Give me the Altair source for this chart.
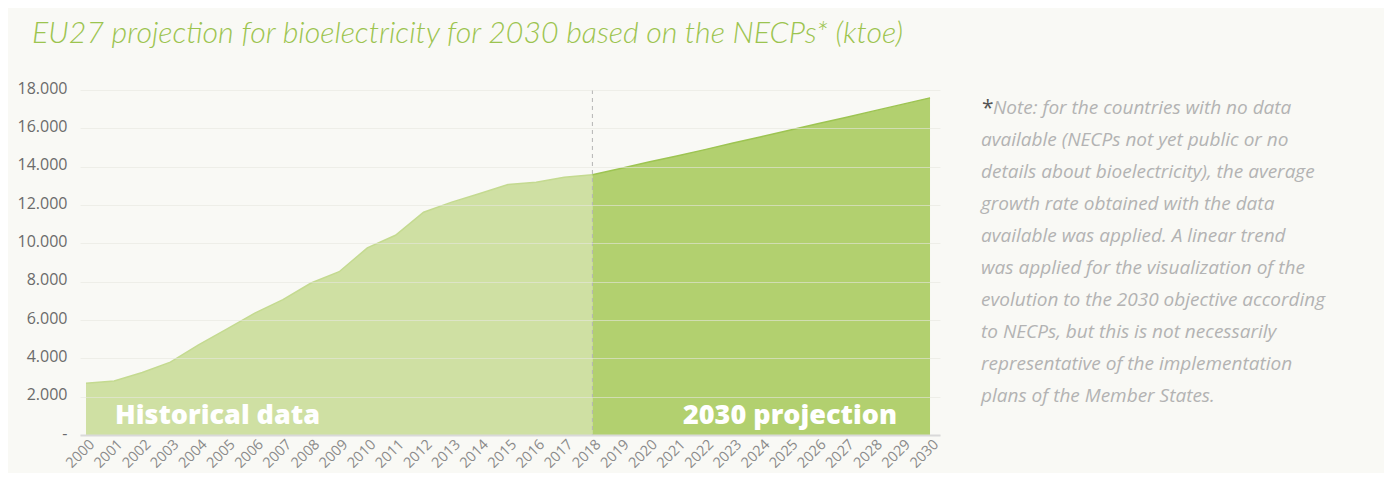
import altair as alt
import pandas as pd

# ---- data (ktoe) ----
years_hist = list(range(2000, 2019))
values_hist = [2700, 2820, 3260, 3800, 4700, 5520, 6360, 7060, 7930, 8520,
               9760, 10420, 11620, 12150, 12600, 13070, 13190, 13450, 13575]
years_proj = list(range(2018, 2031))
values_proj = [13575, 13900, 14240, 14560, 14890, 15230, 15560, 15900,
               16240, 16570, 16910, 17250, 17590]
all_years = list(range(2000, 2031))
y_ticks = [0, 2000, 4000, 6000, 8000, 10000, 12000, 14000, 16000, 18000]

title_text = "EU27 projection for bioelectricity for 2030 based on the NECPs* (ktoe)"
label_hist = "Historical data"
label_proj = "2030 projection"
note_first = "Note: for the countries with no data"
note_lines = [
    "available (NECPs not yet public or no",
    "details about bioelectricity), the average",
    "growth rate obtained with the data",
    "available was applied. A linear trend",
    "was applied for the visualization of the",
    "evolution to the 2030 objective according",
    "to NECPs, but this is not necessarily",
    "representative of the implementation",
    "plans of the Member States.",
]

hist = pd.DataFrame({"year": years_hist, "value": values_hist})
proj = pd.DataFrame({"year": years_proj, "value": values_proj})

xscale = alt.Scale(domain=[1999.787, 2030.355], nice=False, zero=False)
yscale = alt.Scale(domain=[0, 18000], nice=False)

x_axis = alt.Axis(
    values=all_years, format="d", labelAngle=-45, labelAlign="right",
    labelBaseline="middle", labelOffset=6, labelPadding=7,
    labelFont="Open Sans", labelFontSize=14.5, labelColor="#8a8a8a",
    ticks=False, grid=False, domainColor="#d9d9d9", domainWidth=2,
    title=None, zindex=1, labelOverlap=False, labelBound=False)
y_axis = alt.Axis(
    values=y_ticks, labelExpr="datum.value == 0 ? '-' : replace(format(datum.value, ','), ',', '.')",
    labelFont="Open Sans", labelFontSize=16, labelColor="#6b6b6b",
    labelPadding=13, labelOffset=-2, ticks=False, domain=False, grid=True,
    gridColor="#e6e6e0", gridOpacity=0.6, title=None, zindex=1)

x_enc = alt.X("year:Q", scale=xscale, axis=x_axis)
y_enc = alt.Y("value:Q", scale=yscale, axis=y_axis)

area_hist = alt.Chart(hist).mark_area(
    color="#cfe0a3", opacity=1,
    line={"color": "#c4da90", "strokeWidth": 1.5}).encode(x=x_enc, y=y_enc)
area_proj = alt.Chart(proj).mark_area(
    color="#b2d06f", opacity=1,
    line={"color": "#9dc452", "strokeWidth": 1.5}).encode(x=x_enc, y=y_enc)

divider = alt.Chart(pd.DataFrame({"year": [2018]})).mark_rule(
    color="#b5b5b5", strokeDash=[4, 4], strokeWidth=1).encode(
    x=x_enc, y=alt.value(0), y2=alt.value(345))

txt_hist = alt.Chart(pd.DataFrame({"t": [label_hist]})).mark_text(
    align="left", baseline="alphabetic", font="Open Sans", fontWeight=800,
    fontSize=27, color="white").encode(text="t:N", x=alt.value(35), y=alt.value(334))
txt_proj = alt.Chart(pd.DataFrame({"t": [label_proj]})).mark_text(
    align="right", baseline="alphabetic", font="Open Sans", fontWeight=800,
    fontSize=27, color="white").encode(text="t:N", x=alt.value(817), y=alt.value(334))

title = alt.Chart(pd.DataFrame({"t": [title_text]})).mark_text(
    align="left", baseline="alphabetic", font="Lato", fontStyle="italic",
    fontWeight=300, fontSize=30.3, color="#9cc44f").encode(
    text="t:N", x=alt.value(-48), y=alt.value(-47))

star = alt.Chart(pd.DataFrame({"t": ["*"]})).mark_text(
    align="left", baseline="alphabetic", font="Open Sans",
    fontSize=21, color="#555555").encode(text="t:N", x=alt.value(902), y=alt.value(25))
note1 = alt.Chart(pd.DataFrame({"t": [note_first]})).mark_text(
    align="left", baseline="alphabetic", font="Open Sans", fontStyle="italic",
    fontSize=19, color="#b3b3b3").encode(text="t:N", x=alt.value(913), y=alt.value(24))
note_rest = alt.Chart(pd.DataFrame({"t": ["\n".join(note_lines)]})).mark_text(
    align="left", baseline="alphabetic", font="Open Sans", fontStyle="italic",
    fontSize=19, color="#b3b3b3", lineBreak="\n", lineHeight=32).encode(
    text="t:N", x=alt.value(901), y=alt.value(56))

chart = alt.layer(area_hist, area_proj, divider, txt_hist, txt_proj, title,
                  star, note1, note_rest).properties(
    width=860, height=345,
    autosize=alt.AutoSizeParams(type="none"),
    padding={"left": 72, "top": 82, "right": 444, "bottom": 38},
    background="#f9f9f5",
).configure_view(stroke=None)

chart.save("out.html", embed_options={"renderer": "svg", "actions": False})
